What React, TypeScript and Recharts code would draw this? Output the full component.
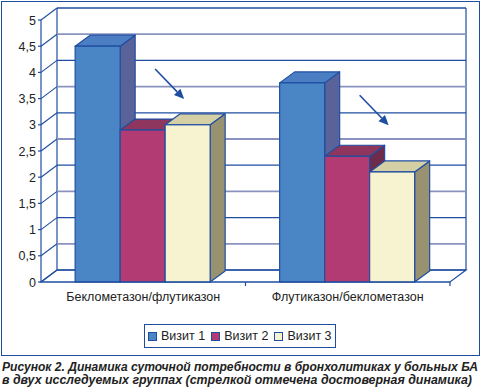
import React from 'react';
import { BarChart, Bar, XAxis, YAxis, CartesianGrid } from 'recharts';

const categories = ['Беклометазон/флутиказон', 'Флутиказон/беклометазон'];
const visit1 = [4.5, 3.8];
const visit2 = [2.9, 2.4];
const visit3 = [3.0, 2.1];
const significantArrow = [true, true];
const seriesNames = ['Визит 1', 'Визит 2', 'Визит 3'];
const yTicks = [0, 0.5, 1, 1.5, 2, 2.5, 3, 3.5, 4, 4.5, 5];
const captionLines = [
  'Рисунок 2. Динамика суточной потребности в бронхолитиках у больных БА',
  'в двух исследуемых группах (стрелкой отмечена достоверная динамика)',
];

const data = categories.map((name, i) => ({
  name,
  v1: visit1[i],
  v2: visit2[i],
  v3: visit3[i],
  arrow: significantArrow[i],
}));

const BLUE = '#1f4ea0';
const GRID_LIGHT = '#8a93bf';
const BDX = 15;
const BDY = 11;
const WDX = 16;
const WDY = 12;
const FONT = '"Liberation Sans", Arial, sans-serif';

const palettes = [
  { front: '#4a86c6', top: '#4c7ec3', side: '#5a6399' },
  { front: '#b33b73', top: '#8e365e', side: '#6e2c4c' },
  { front: '#f7f3d0', top: '#d5cfa6', side: '#989270' },
];

function make3D(pal: { front: string; top: string; side: string }, withArrow: boolean) {
  return (props: any) => {
    const { x, y, width: w, height: h, payload } = props;
    if (w == null || h == null) return <g />;
    const topPts = `${x},${y} ${x + BDX},${y - BDY} ${x + w + BDX},${y - BDY} ${x + w},${y}`;
    const sidePts = `${x + w},${y} ${x + w + BDX},${y - BDY} ${x + w + BDX},${y + h - BDY} ${x + w},${y + h}`;
    let arrow = null;
    if (withArrow && payload && payload.arrow) {
      const sx = x + 35, sy = y - 61, ex = x + 64, ey = y - 31;
      const ang = Math.atan2(ey - sy, ex - sx);
      const L = 10, W = 4.5;
      const bx = ex - L * Math.cos(ang), by = ey - L * Math.sin(ang);
      const px = -Math.sin(ang) * W, py = Math.cos(ang) * W;
      arrow = (
        <g>
          <line x1={sx} y1={sy} x2={bx} y2={by} stroke={BLUE} strokeWidth={1.6} />
          <polygon points={`${ex},${ey} ${bx + px},${by + py} ${bx - px},${by - py}`} fill={BLUE} />
        </g>
      );
    }
    return (
      <g>
        <polygon points={sidePts} fill={pal.side} stroke={BLUE} strokeWidth={1.2} strokeLinejoin="round" />
        <polygon points={topPts} fill={pal.top} stroke={BLUE} strokeWidth={1.2} strokeLinejoin="round" />
        <rect x={x} y={y} width={w} height={h} fill={pal.front} stroke={BLUE} strokeWidth={1.2} />
        {arrow}
      </g>
    );
  };
}

const gridLine = (props: any) => {
  const { x1, y1, x2, index } = props;
  const gx = props.x ?? x1;
  const gw = props.width ?? x2 - x1;
  const pts: number[] = props.horizontalPoints || [];
  const gy = props.y ?? Math.min(...pts);
  const gh = props.height ?? Math.max(...pts) - Math.min(...pts);
  const bottom = gy + gh;
  const light = index % 2 === 1;
  return (
    <g key={`gl-${index}`}>
      {index === 0 && (
        <g>
          <polygon
            points={`${gx},${bottom} ${gx + gw},${bottom} ${gx + gw + WDX},${bottom - WDY} ${gx + WDX},${bottom - WDY}`}
            fill="#fff"
            stroke={BLUE}
            strokeWidth={1.2}
          />
          <line x1={gx + WDX} y1={gy - WDY} x2={gx + WDX} y2={bottom - WDY} stroke={BLUE} strokeWidth={1.2} />
          <line x1={gx + gw + WDX} y1={gy - WDY} x2={gx + gw + WDX} y2={bottom - WDY} stroke={BLUE} strokeWidth={1.2} />
        </g>
      )}
      <line x1={x1} y1={y1} x2={x1 + WDX} y2={y1 - WDY} stroke={BLUE} strokeWidth={1.1} />
      <line
        x1={x1 + WDX}
        y1={y1 - WDY}
        x2={x2 + WDX}
        y2={y1 - WDY}
        stroke={light ? GRID_LIGHT : BLUE}
        strokeWidth={light ? 1.8 : 1.3}
      />
    </g>
  );
};

const YTick = (props: any) => {
  const { x, y, payload } = props;
  const label = String(payload.value).replace('.', ',');
  return (
    <text x={x} y={y} dy={4.5} textAnchor="end" fontSize={12.5} fill="#222" fontFamily={FONT}>
      {label}
    </text>
  );
};

const XTick = (props: any) => {
  const { x, y, payload } = props;
  const off = payload && payload.offset ? payload.offset : 102;
  return (
    <g>
      <line x1={x + off} y1={y - 8} x2={x + off} y2={y - 4} stroke={BLUE} strokeWidth={1.2} />
      <text x={x} y={y + 11} textAnchor="middle" fontSize={12.5} fill="#222" fontFamily={FONT}>
        {payload.value}
      </text>
    </g>
  );
};

export default function App() {
  return (
    <div style={{ position: 'absolute', left: 0, top: 0, width: 482, height: 391, background: '#fff' }}>
      <div
        style={{
          position: 'absolute',
          left: 1,
          top: 1,
          width: 477,
          height: 353,
          border: `1.5px solid ${BLUE}`,
        }}
      />
      <div style={{ position: 'absolute', left: 0, top: 0 }}>
        <BarChart
          width={482}
          height={310}
          data={data}
          margin={{ top: 20, right: 32, bottom: 0, left: 0 }}
          barGap={0}
          barCategoryGap="16.7%"
        >
          <CartesianGrid horizontal={gridLine} vertical={false} />
          <YAxis
            width={41}
            domain={[0, 5]}
            ticks={yTicks}
            interval={0}
            tickSize={3}
            tickMargin={2}
            axisLine={{ stroke: BLUE, strokeWidth: 1.2 }}
            tickLine={{ stroke: BLUE, strokeWidth: 1.2 }}
            tick={YTick}
          />
          <XAxis
            dataKey="name"
            height={28}
            axisLine={{ stroke: BLUE, strokeWidth: 1.2 }}
            tickLine={false}
            tick={XTick}
            interval={0}
          />
          <Bar dataKey="v1" name={seriesNames[0]} isAnimationActive={false} shape={make3D(palettes[0], false)} />
          <Bar dataKey="v2" name={seriesNames[1]} isAnimationActive={false} shape={make3D(palettes[1], true)} />
          <Bar dataKey="v3" name={seriesNames[2]} isAnimationActive={false} shape={make3D(palettes[2], false)} />
        </BarChart>
      </div>
      <div
        style={{
          position: 'absolute',
          left: 144,
          top: 324,
          width: 190,
          height: 22,
          border: `1.5px solid ${BLUE}`,
          display: 'flex',
          alignItems: 'center',
          whiteSpace: 'nowrap',
          fontFamily: FONT,
          fontSize: 12.5,
          color: '#222',
        }}
      >
        {seriesNames.map((n, i) => (
          <div
            key={n}
            style={{ display: 'flex', alignItems: 'center', marginLeft: i === 0 ? 3 : 6, whiteSpace: 'nowrap', flexShrink: 0 }}
          >
            <div
              style={{
                width: 7,
                height: 7,
                background: palettes[i].front,
                border: `1px solid ${BLUE}`,
                marginRight: 4,
                flexShrink: 0,
              }}
            />
            <span>{n}</span>
          </div>
        ))}
      </div>
      <svg style={{ position: 'absolute', left: 0, top: 356 }} width={482} height={35}>
        {captionLines.map((t, i) => (
          <text
            key={i}
            x={2}
            y={15 + i * 13}
            fontFamily={FONT}
            fontWeight="bold"
            fontStyle="italic"
            fontSize={12}
            fill="#222"
            textLength={i === 0 ? 476 : 470}
            lengthAdjust="spacingAndGlyphs"
          >
            {t}
          </text>
        ))}
      </svg>
    </div>
  );
}
